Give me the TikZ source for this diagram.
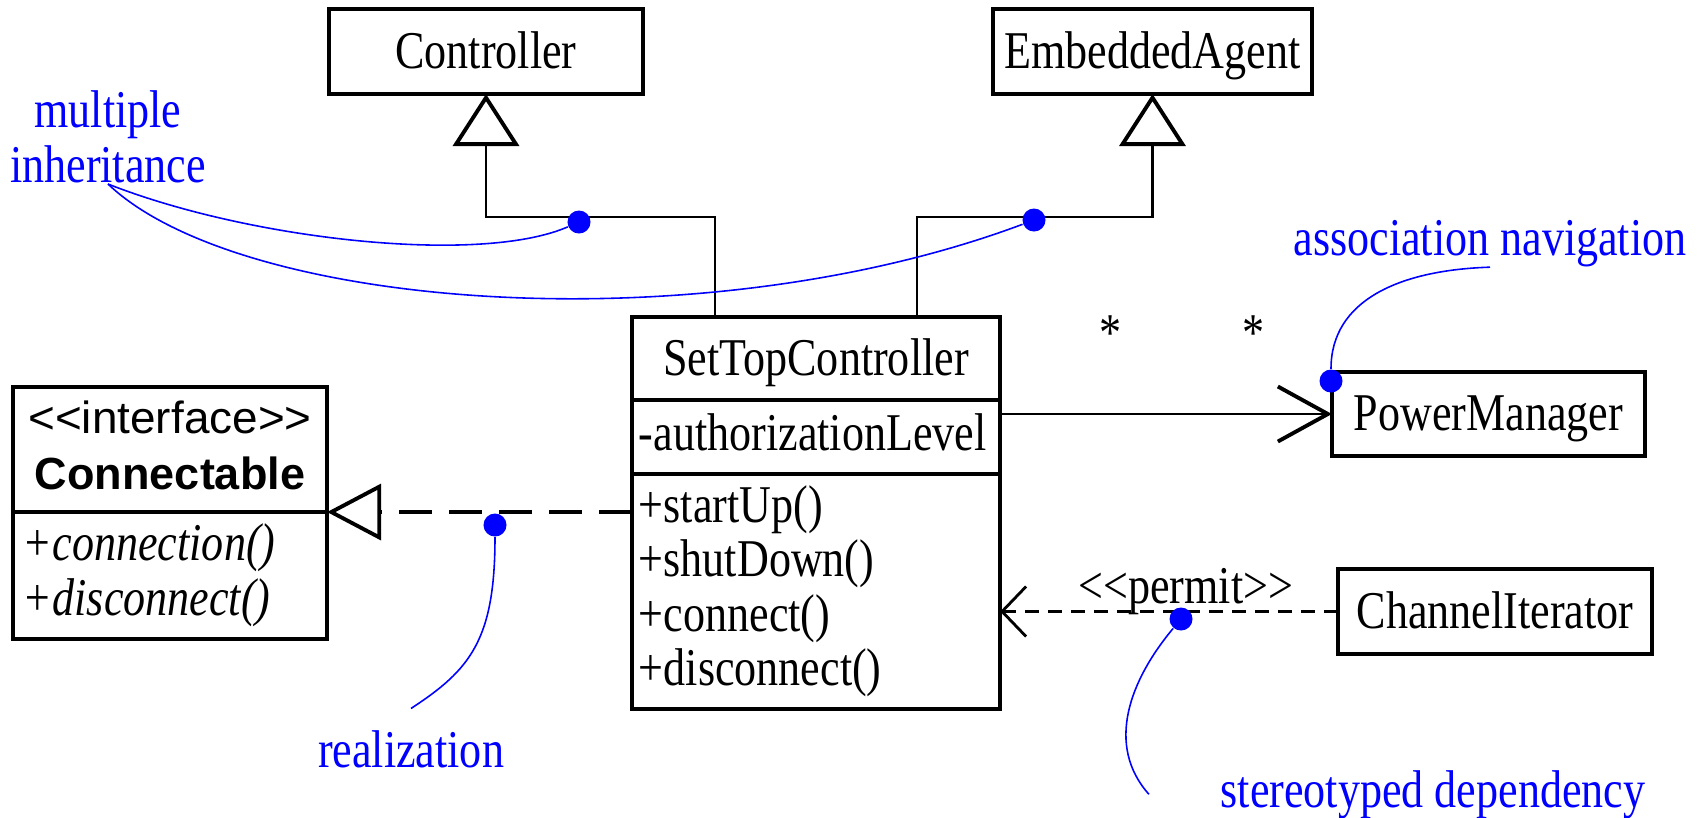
\documentclass[tikz,border=0pt]{standalone}
\usepackage{fontspec}
\setmainfont[FakeStretch=0.83]{Liberation Serif}
\newfontfamily\ifacefont[FakeStretch=1.02]{Liberation Sans}
\newfontfamily\ifacebold{Liberation Sans}
\newcommand{\stereo}[1]{<\kern0pt<#1>\kern0pt>}
\usetikzlibrary{arrows.meta,positioning}
\tikzset{
  every picture/.style = {
    x = 0.01cm,
    y = -0.01cm,
    node distance = 0pt,
    font = \fontsize{15.1pt}{18pt}\selectfont
  }
  ,
  box/.style = {
    rectangle,
    draw,
    line width = 1.1pt,
    outer sep = 0pt,
    minimum width = 3.14cm
  }
  ,
  class/.style = {
    box,
    minimum height = 0.85cm,
    text height = 0.38cm,
    text depth = 0.05cm
  }
  , % compartments with members
  members/.style = {
    box,
    align = left,
    inner xsep = 0.07cm,
    text width = 3.54cm
  }
  , % multiplicities
  mult/.style = {
    anchor = base,
    inner sep = 0pt,
    yshift = 0.63cm
  }
  , % blue remarks
  note/.style = {
    text = blue,
    inner sep = 0pt,
    font = \fontsize{15.1pt}{15.65pt}\selectfont
  }
  ,
  note-line/.style = {
    draw = blue,
    line width = 0.45pt
  }
  ,
  note-dot/.style = {
    circle,
    fill = blue,
    inner sep = 0pt,
    minimum size = 0.23cm
  }
  ,
  generalization/.style = {
    line width = 0.75pt,
    -{Triangle[open, length=0.52cm, width=0.66cm, line width=1.1pt]}
  }
  ,
  realization/.style = {
    line width = 1.3pt,
    dash pattern = on 0.33cm off 0.17cm,
    -{Triangle[open, length=0.54cm, width=0.56cm, line width=1.1pt]}
  }
  ,
  association/.style = {
    line width = 0.75pt,
    -{Straight Barb[length=0.5cm, width=0.55cm, line width=1.1pt]}
  }
  ,
  dependency/.style = {
    line width = 0.9pt,
    dash pattern = on 0.14cm off 0.09cm,
    -{Straight Barb[length=0.24cm, width=0.5cm, line width=0.8pt]}
  }
}

\begin{document}
\begin{tikzpicture}
\useasboundingbox (0,0) rectangle (1702,817);

% classes
\node [class] (ctrl) at (486,51.5) {Controller};
\node [class, minimum width=3.19cm] (ea) at (1152.5,51.5) {EmbeddedAgent};
\node [class, minimum width=3.68cm, minimum height=0.83cm] (stc) at (816,358.5) {SetTopController};
\node [members, minimum height=0.74cm, text height=0.36cm, text depth=0.1cm, below = of stc] (stcattr) {-authorizationLevel};
\node [members, minimum height=2.33cm, font=\fontsize{15.1pt}{15.45pt}\selectfont, below = of stcattr] (stcops)
  {+startUp()\\+shutDown()\\+connect()\\+disconnect()};
\node [class, minimum width=3.13cm, minimum height=0.84cm] (pm) at (1488.5,414) {PowerManager};
\node [class] (ci) at (1495,611.5) {ChannelIterator};

% interface
\node [box, minimum height=1.25cm, inner xsep=0pt, align=center, font=\fontsize{12.8pt}{15.9pt}\selectfont] (ifhead) at (170,449.5)
  {{\ifacefont\stereo{interface}}\\{\ifacebold\bfseries Connectable\vphantom{g}}};
\node [members, minimum height=1.23cm, inner xsep=0.1cm, text width=2.94cm, font=\fontsize{15.1pt}{15.65pt}\selectfont\itshape, below = of ifhead] (ifbody)
  {+connection()\\+disconnect()};

% relations
\draw [generalization] ([xshift=-1.01cm]stc.north) -- ++(0,-100) -| (ctrl.south);
\draw [generalization] ([xshift=1.01cm]stc.north) -- ++(0,-100) -| (ea.south);
\draw [realization] (ifbody.north east -| stcops.west) -- (ifbody.north east);
\draw [association] (pm.west -| stc.east) -- (pm.west)
  node [mult, pos=0.334] {*}
  node [mult, pos=0.765] {*};
\draw [dependency] (ci.west) -- (ci.west -| stcops.east)
  node [pos=0.45, anchor=base, inner sep=0pt, yshift=0.08cm] {\stereo{permit}};

% remarks
\node [note, align=center, anchor=south] (mi) at (108,184) {multiple\\inheritance};
\node [note, anchor=base] (an) at (1490,255) {association navigation};
\node [note, anchor=base] (real) at (411,767) {realization};
\node [note, anchor=base] (sd) at (1433,807) {stereotyped dependency};

\node [note-dot] (d1) at (579,222) {};
\node [note-dot] (d2) at (1034,220) {};
\node [note-dot] (d3) at (495,525) {};
\node [note-dot] (d4) at (1331,381) {};
\node [note-dot] (d5) at (1181,619) {};

\path [note-line] (mi.south) .. controls (250,240) and (480,265) .. (d1);
\path [note-line] (mi.south) .. controls (240,310) and (700,345) .. (d2);
\path [note-line] (d3) .. controls (495,640) and (470,670) .. ([yshift=0.21cm]real.north);
\path [note-line] (d4) .. controls (1331,300) and (1400,270) .. (an.south);
\path [note-line] (d5) .. controls (1130,680) and (1105,745) .. ([xshift=-0.71cm]sd.west);
\end{tikzpicture}
\end{document}
